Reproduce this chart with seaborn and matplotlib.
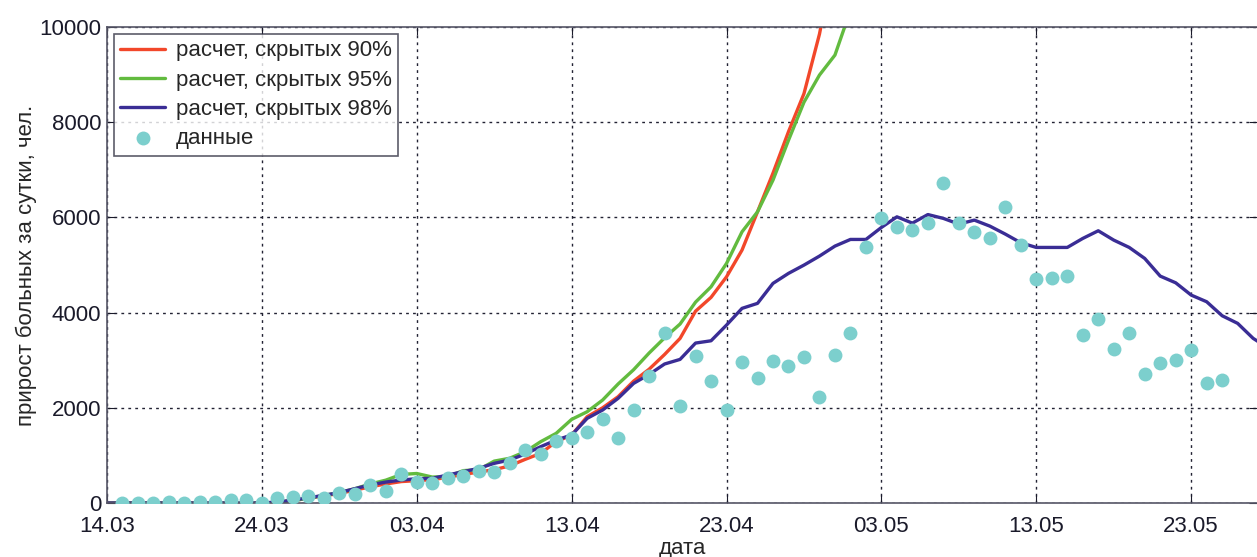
import numpy as np
import pandas as pd
import matplotlib
matplotlib.use("Agg")
import matplotlib.pyplot as plt
import matplotlib.dates as mdates
import seaborn as sns

# daily new cases: observed data (15.03 - 25.05)
data_start = "2020-03-15"
data_values = [
    0, 5, 10, 20, 10, 20, 20, 60, 60, 10,
    111, 133, 153, 111, 203, 190, 378,
    252, 602, 440, 426, 518, 574, 678, 651, 847, 1113, 1022, 1296, 1359, 1497, 1771,
    1359, 1953, 2667, 3576, 2030, 3087, 2558, 1960, 2967, 2625, 2982, 2877, 3072, 2219, 3108,
    3576, 5382, 5979, 5803, 5733, 5887, 6726, 5873, 5698, 5572, 6210, 5412, 4710, 4732, 4767,
    3522, 3870, 3240, 3564, 2703, 2934, 3003, 3206, 2514, 2583,
]

# model runs, all starting 14.03
model_start = "2020-03-14"
calc_90 = [
    0, 0, 0, 0, 0, 0, 0, 0, 0, 0, 0,
    15, 50, 100, 150, 200, 270, 340,
    400, 450, 470, 490, 540, 600, 650, 700, 780, 917, 1043, 1288, 1428, 1813, 2000,
    2233, 2560, 2810, 3120, 3458, 4030, 4320, 4752, 5313, 6117, 6930, 7800, 8600, 9850, 11500,
]
calc_95 = [
    0, 0, 0, 0, 0, 0, 0, 0, 0, 0, 0,
    15, 50, 100, 160, 220, 300, 400,
    480, 600, 620, 545, 555, 680, 700, 880, 940, 1077, 1288, 1463, 1757, 1917, 2163,
    2500, 2800, 3150, 3470, 3760, 4220, 4542, 5033, 5697, 6117, 6783, 7620, 8420, 8990, 9410,
    10350,
]
calc_98 = [
    0, 0, 0, 0, 0, 0, 0, 0, 0, 0, 0,
    20, 60, 110, 160, 220, 300, 380,
    440, 483, 510, 518, 588, 658, 728, 833, 903, 1029, 1183, 1323, 1428, 1778, 1953,
    2199, 2513, 2700, 2920, 3017, 3360, 3408, 3738, 4089, 4194, 4614, 4824, 4998, 5187, 5397,
    5537, 5537, 5789, 6012, 5880, 6060, 5979, 5859, 5943, 5817, 5649, 5467, 5369, 5369, 5369,
    5558, 5719, 5523, 5369, 5138, 4767, 4626, 4368, 4228, 3934, 3774, 3459, 3250,
]

labels = ["расчет, скрытых 90%", "расчет, скрытых 95%", "расчет, скрытых 98%", "данные"]
colors = ["#f2472a", "#62bb3f", "#3a2d95", "#7ccfcd"]
xticks = pd.date_range("2020-03-14", periods=8, freq="10D")

sns.set_style("white")
plt.rcParams["font.family"] = ["Liberation Sans", "DejaVu Sans"]

fig = plt.figure(figsize=(12.57, 5.57), dpi=100)
ax = fig.add_axes([107 / 1257, 54 / 557, 1 - 107 / 1257, 476 / 557])

for vals, lab, col in zip([calc_90, calc_95, calc_98], labels[:3], colors[:3]):
    d = pd.date_range(model_start, periods=len(vals), freq="D")
    sns.lineplot(x=d, y=vals, ax=ax, color=col, linewidth=2.4, label=lab)

dd = pd.date_range(data_start, periods=len(data_values), freq="D")
sns.scatterplot(x=dd, y=data_values, ax=ax, color=colors[3], s=100,
                linewidth=0, label=labels[3], zorder=5)

x0 = pd.Timestamp("2020-03-14")
ax.set_xlim(x0, x0 + pd.Timedelta(days=74.25))
ax.set_ylim(0, 10000)
ax.set_xticks(xticks)
ax.xaxis.set_major_formatter(mdates.DateFormatter("%d.%m"))
ax.set_yticks(np.arange(0, 10001, 2000))

ax.grid(True, color="#222233", linestyle=(0, (2, 3)), linewidth=1)
ax.tick_params(direction="in", length=6, labelsize=16, colors="#1a1a2a",
               top=True, right=True, bottom=True, left=True)
ax.tick_params(axis="x", pad=9)
ax.tick_params(axis="y", pad=4)
for s in ["left", "bottom", "top"]:
    ax.spines[s].set_color("#555566")
    ax.spines[s].set_linewidth(1.2)
ax.spines["right"].set_visible(False)

ax.set_xlabel("дата", fontsize=16, labelpad=1)
ax.set_ylabel("прирост больных за сутки, чел.", fontsize=16, labelpad=2)

leg = ax.legend(loc="upper left", fontsize=16, frameon=True, fancybox=False,
                edgecolor="#333344", handlelength=2.0, labelspacing=0.37,
                borderaxespad=0.3, borderpad=0.3, handletextpad=0.5)
leg.get_frame().set_linewidth(1.2)

fig.savefig("out.png", dpi=100)
